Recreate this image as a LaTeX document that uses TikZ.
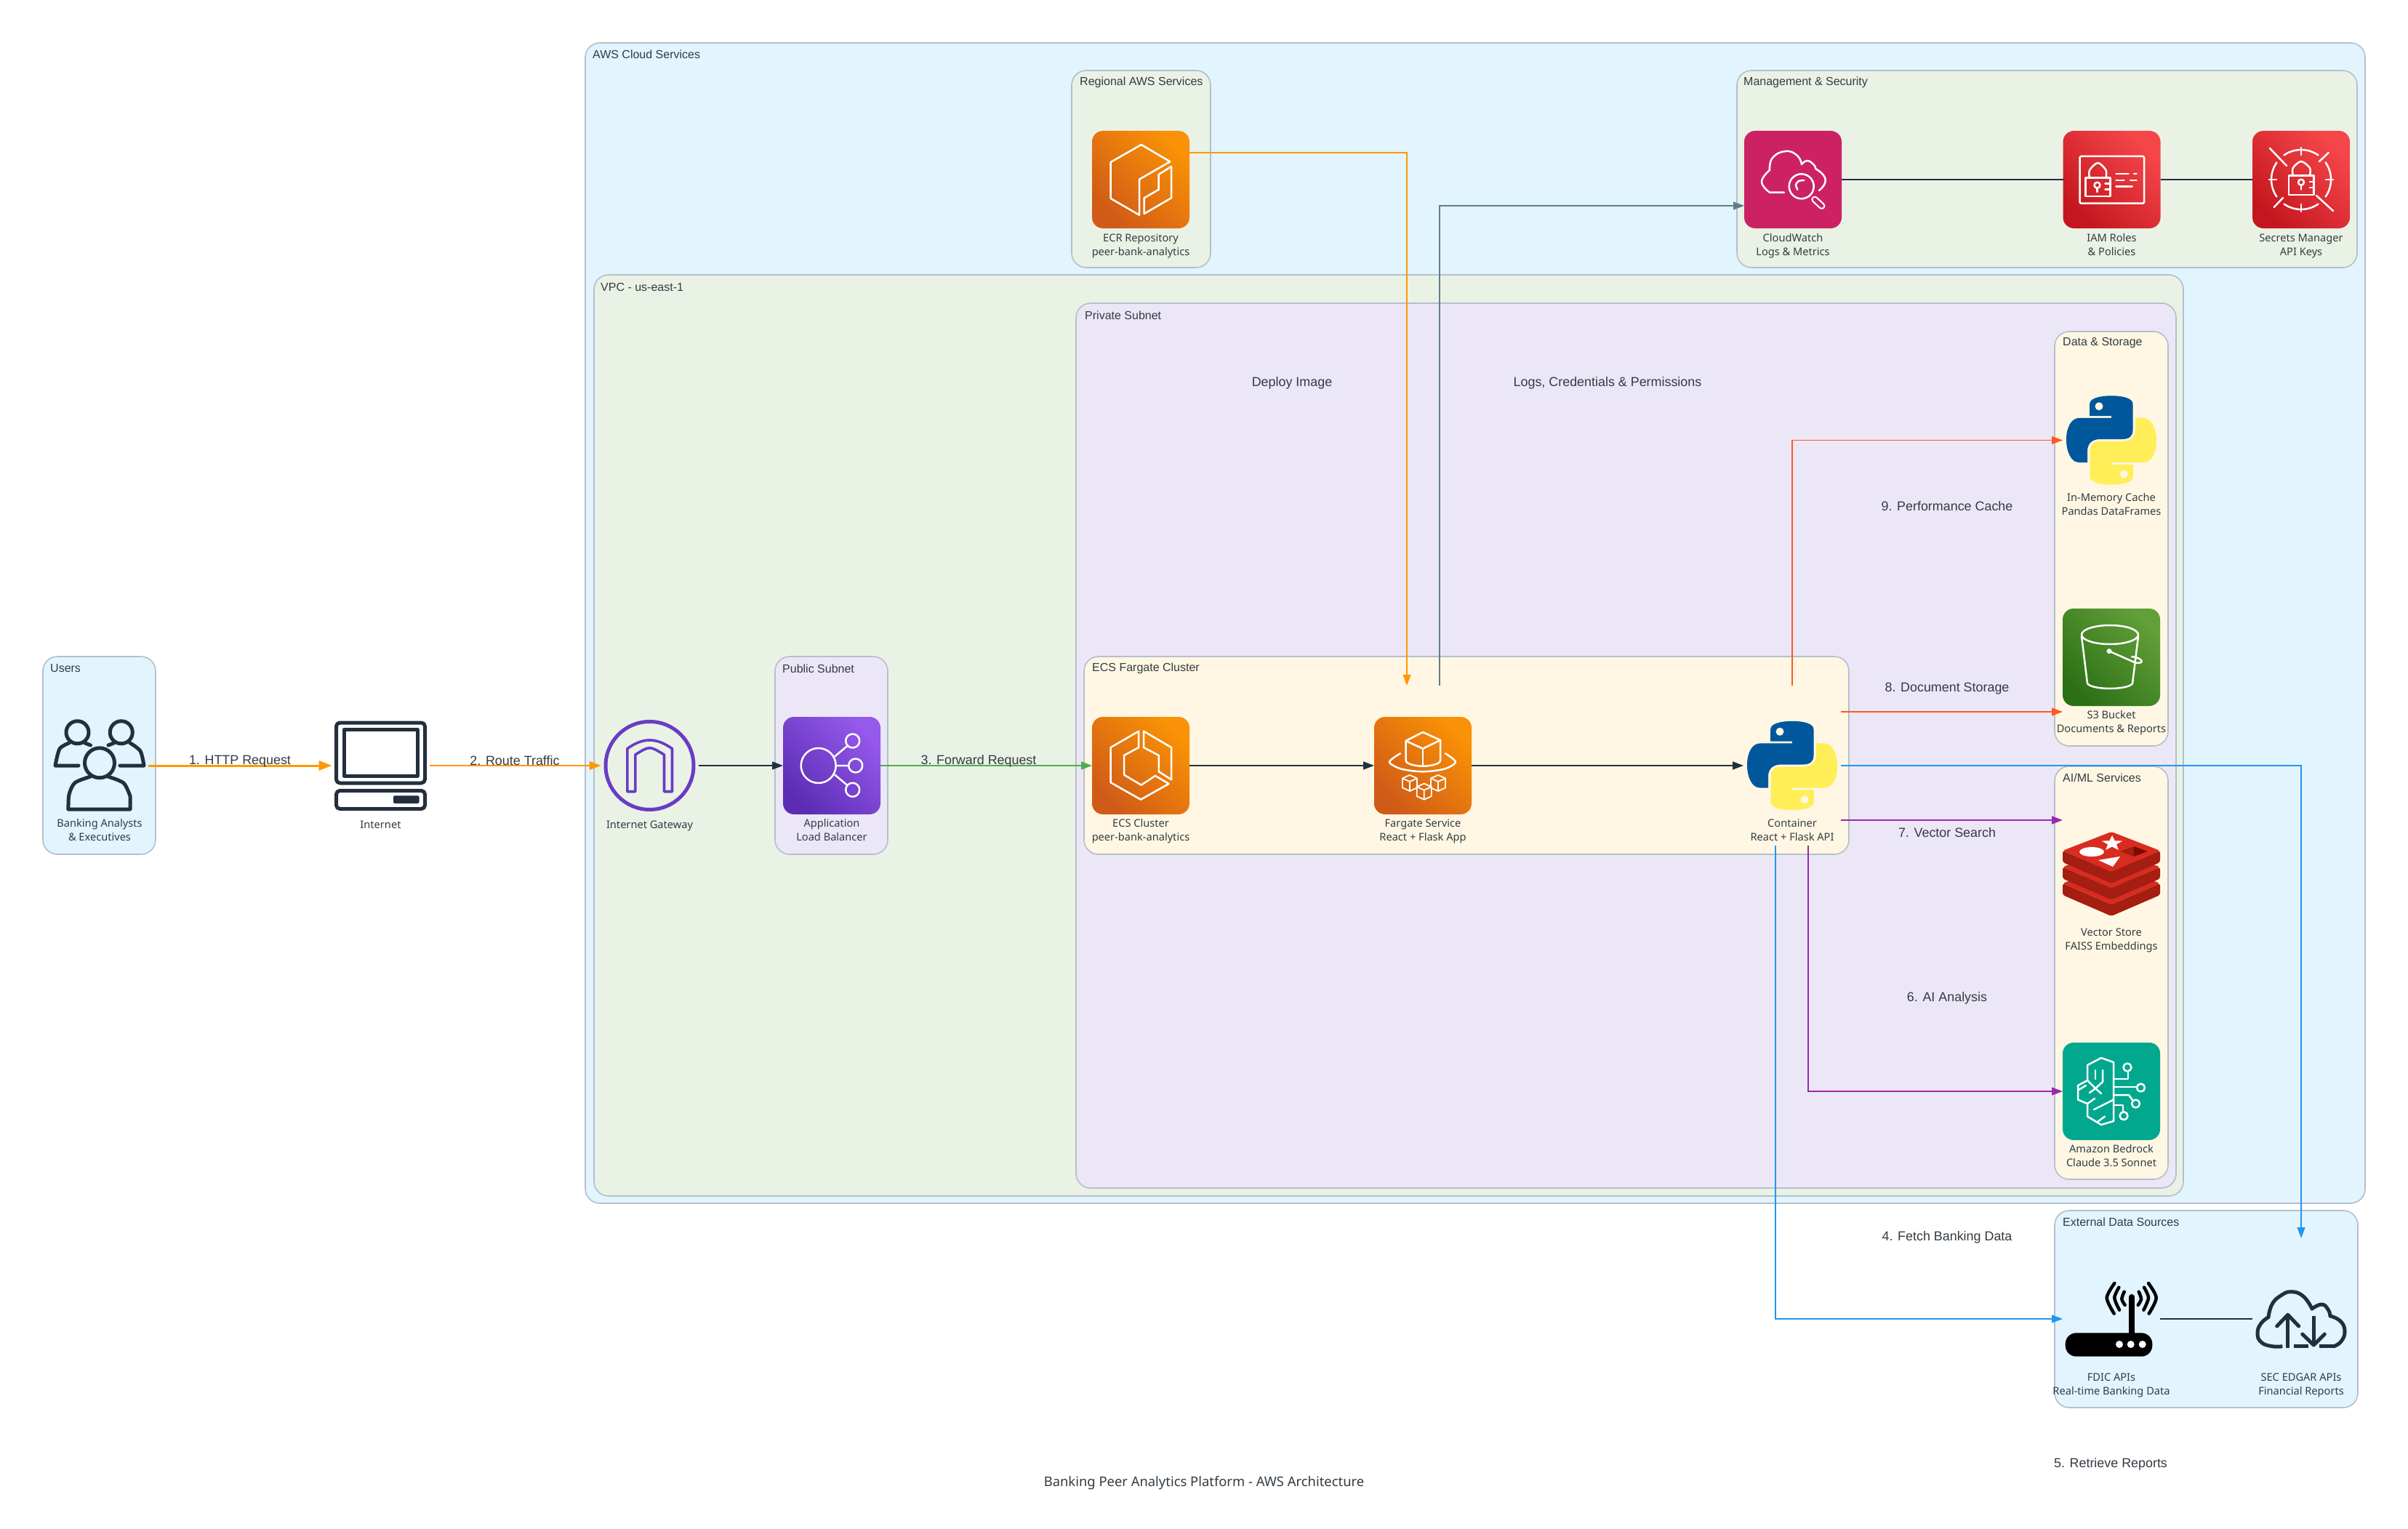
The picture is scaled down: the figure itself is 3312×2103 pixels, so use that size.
\documentclass[tikz,border=0pt]{standalone}
\usepackage{fontspec}
\setmainfont{Noto Sans}
\newfontfamily\arialf{Liberation Sans}
\usetikzlibrary{arrows.meta}
\definecolor{fillBlue}{HTML}{E2F4FD}
\definecolor{fillGreen}{HTML}{EAF2E6}
\definecolor{fillPurple}{HTML}{ECE7F6}
\definecolor{fillCream}{HTML}{FFF7E3}
\definecolor{grpBorder}{HTML}{B4BFCB}
\definecolor{awsDark}{HTML}{232F3E}
\definecolor{txtDark}{HTML}{333B42}
\definecolor{cOrange}{HTML}{FF9800}
\definecolor{cGreen}{HTML}{4CAF50}
\definecolor{cDeep}{HTML}{FF5722}
\definecolor{cPurple}{HTML}{9C27B0}
\definecolor{cBlue}{HTML}{2196F3}
\definecolor{cSlate}{HTML}{607D8B}
\definecolor{igwPurple}{HTML}{693CC5}
\definecolor{cwPink}{HTML}{CC2264}
\definecolor{bedTeal}{HTML}{01A88D}
\definecolor{redisTop}{HTML}{D82C20}
\definecolor{redisSide}{HTML}{A41E11}
\definecolor{redisDeep}{HTML}{7A0C00}
\definecolor{pyBlue}{HTML}{01579B}
\definecolor{pyYellow}{HTML}{FFEE58}
\definecolor{orangeHi}{HTML}{F99206}
\definecolor{orangeLo}{HTML}{D05A17}
\definecolor{redHi}{HTML}{F5474A}
\definecolor{redLo}{HTML}{C5161F}
\definecolor{purpleHi}{HTML}{9559EC}
\definecolor{purpleLo}{HTML}{5C2DB4}
\definecolor{greenHi}{HTML}{619F38}
\definecolor{greenLo}{HTML}{2C7016}
\tikzset{
  grp/.style={rectangle,rounded corners=20pt,draw=grpBorder,line width=1.6pt,anchor=north west,inner sep=0pt,outer sep=0pt},
  grpTitle/.style={anchor=west,inner sep=0pt,yshift=-1.5pt,font=\arialf\fontsize{16}{19}\selectfont,text=txtDark},
  edgeLbl/.style={inner sep=0pt,font=\arialf\fontsize{17.9}{21}\selectfont,text=txtDark},
  svcLbl/.style={inner sep=0pt,align=center,font=\fontsize{14.6}{19}\selectfont,text=txtDark,
    execute at begin node={\rule{0pt}{14pt}},execute at end node={\rule[-4pt]{0pt}{4pt}}},
  frameBox/.style={rectangle,minimum size=134pt,inner sep=0pt,outer sep=0pt},
  tile/.style={frameBox,rounded corners=15pt},
  tOrange/.style={tile,top color=orangeHi,bottom color=orangeLo,shading angle=-45},
  tRed/.style={tile,top color=redHi,bottom color=redLo,shading angle=-45},
  tPurple/.style={tile,top color=purpleHi,bottom color=purpleLo,shading angle=-45},
  tGreen/.style={tile,top color=greenHi,bottom color=greenLo,shading angle=-45},
  gl/.style={draw=white,line width=2.5pt,line cap=round,line join=round},
  dk/.style={draw=awsDark,line width=5pt,line cap=round,line join=round},
  link/.style={line width=1.5pt},
  thinlink/.style={line width=1.1pt},
  tip/.style={-{Triangle[length=15pt,width=11pt]}},
}
\newcommand{\pyglyph}[1]{%
  \fill[pyBlue] (-29.8,-33.3) -- (-29.8,-50) .. controls (-29.8,-58) and (-15,-61.2) .. (0,-61.2) .. controls (15,-61.2) and (29.5,-58) .. (29.5,-50) -- (29.5,-14) .. controls (29.5,-6) and (25,-1.5) .. (15,-1.5) -- (-15,-1.5) .. controls (-28,-1.5) and (-33,6) .. (-33,15) -- (-33,30.6) -- (-44,30.6) .. controls (-56,30.6) and (-62,15) .. (-62,-1) .. controls (-62,-18) and (-55,-30.6) .. (-44,-30.6) -- (0,-30.6) -- (0,-33.3) -- cycle;
  \fill[#1] (-17,-46.7) circle[radius=5.5];
  \begin{scope}[rotate=180]
  \fill[pyYellow] (-29.8,-33.3) -- (-29.8,-50) .. controls (-29.8,-58) and (-15,-61.2) .. (0,-61.2) .. controls (15,-61.2) and (29.5,-58) .. (29.5,-50) -- (29.5,-14) .. controls (29.5,-6) and (25,-1.5) .. (15,-1.5) -- (-15,-1.5) .. controls (-28,-1.5) and (-33,6) .. (-33,15) -- (-33,30.6) -- (-44,30.6) .. controls (-56,30.6) and (-62,15) .. (-62,-1) .. controls (-62,-18) and (-55,-30.6) .. (-44,-30.6) -- (0,-30.6) -- (0,-33.3) -- cycle;
  \fill[#1] (-17,-46.7) circle[radius=5.5];
  \end{scope}
}
\newcommand{\smcube}[2]{%
  \begin{scope}[shift={(#1,#2)}]
  \draw[gl,line width=1.8pt] (0,-11) -- (10,-6.5) -- (10,6.5) -- (0,11) -- (-10,6.5) -- (-10,-6.5) -- cycle;
  \draw[gl,line width=1.8pt] (-10,-6.5) -- (0,-2) -- (10,-6.5) (0,-2) -- (0,11);
  \end{scope}
}
\newcommand{\redislayer}[1]{%
  \fill[redisSide,rounded corners=3pt] (-67,{-32+#1}) -- (-67,{-16+#1}) -- (0,{13+#1}) -- (67,{-16+#1}) -- (67,{-32+#1}) -- (0,{-3+#1}) -- cycle;
  \fill[redisTop,rounded corners=3pt] (0,{-58+#1}) -- (67,{-32+#1}) -- (0,{-3+#1}) -- (-67,{-32+#1}) -- cycle;
}
\begin{document}
\begin{tikzpicture}[x=1pt,y=-1pt]
\useasboundingbox (0,0) rectangle (3312,2103);
\fill[white] (0,0) rectangle (3312,2103);
% groups
\node[grp,fill=fillBlue,minimum width=2448pt,minimum height=1596pt] (gAws) at (805,59) {};
\node[grp,fill=fillGreen,minimum width=191pt,minimum height=271pt] (gReg) at (1474,97) {};
\node[grp,fill=fillGreen,minimum width=853pt,minimum height=271pt] (gMgmt) at (2389,97) {};
\node[grp,fill=fillGreen,minimum width=2186pt,minimum height=1267pt] (gVpc) at (817,378) {};
\node[grp,fill=fillPurple,minimum width=155pt,minimum height=272pt] (gPub) at (1066,903) {};
\node[grp,fill=fillPurple,minimum width=1513pt,minimum height=1217pt] (gPriv) at (1480,417) {};
\node[grp,fill=fillCream,minimum width=1052pt,minimum height=272pt] (gEcs) at (1491,903) {};
\node[grp,fill=fillCream,minimum width=156pt,minimum height=570pt] (gData) at (2826,456) {};
\node[grp,fill=fillCream,minimum width=156pt,minimum height=568pt] (gAi) at (2826,1054) {};
\node[grp,fill=fillBlue,minimum width=155pt,minimum height=272pt] (gUsers) at (59,903) {};
\node[grp,fill=fillBlue,minimum width=417pt,minimum height=271pt] (gExt) at (2826,1665) {};
\node[grpTitle] (tAws) at (815,73) {AWS Cloud Services};
\node[grpTitle] (tReg) at (1485,112) {Regional AWS Services};
\node[grpTitle] (tMgmt) at (2398,112) {Management \& Security};
\node[grpTitle] (tVpc) at (826,393) {VPC - us-east-1};
\node[grpTitle] (tPriv) at (1492,432) {Private Subnet};
\node[grpTitle] (tPub) at (1076,918) {Public Subnet};
\node[grpTitle] (tEcs) at (1502,918) {ECS Fargate Cluster};
\node[grpTitle] (tData) at (2837,470) {Data \& Storage};
\node[grpTitle] (tAi) at (2837,1068) {AI/ML Services};
\node[grpTitle] (tUsers) at (69,918) {Users};
\node[grpTitle] (tExt) at (2837,1679) {External Data Sources};
% service frames and tiles
\node[frameBox] (users) at (137,1053) {};
\node[frameBox] (internet) at (523.5,1053) {};
\node[frameBox] (igw) at (893.5,1053) {};
\node[tPurple] (alb) at (1144,1053) {};
\node[tOrange] (ecs) at (1569,1053) {};
\node[tOrange] (fargate) at (1957,1053) {};
\node[frameBox] (cont) at (2465,1053) {};
\node[tOrange] (ecr) at (1569,247) {};
\node[tile,fill=cwPink] (cw) at (2466,247) {};
\node[tRed] (iam) at (2904.5,247) {};
\node[tRed] (secrets) at (3165,247) {};
\node[frameBox] (cache) at (2904,605.5) {};
\node[tGreen] (s3) at (2904,904) {};
\node[frameBox] (redis) at (2904,1202) {};
\node[tile,fill=bedTeal] (bedrock) at (2904,1501) {};
\node[frameBox] (fdic) at (2904,1814) {};
\node[frameBox] (sec) at (3165,1814) {};
% ports
\coordinate (fgIn) at ([xshift=-22pt,yshift=43pt]fargate.north);
\coordinate (fgOut) at ([xshift=23pt,yshift=43pt]fargate.north);
\coordinate (ecrOut) at ([yshift=37pt]ecr.east);
\coordinate (cwIn) at ([yshift=-36pt]cw.west);
\coordinate (contTop) at ([yshift=43pt]cont.north);
\coordinate (contDoc) at ([yshift=74pt]cont.east);
\coordinate (contVec) at ([yshift=-75pt]cont.east);
\coordinate (contAi) at ([xshift=22pt,yshift=-43pt]cont.south);
\coordinate (contFdic) at ([xshift=-23pt,yshift=-43pt]cont.south);
\coordinate (s3In) at ([yshift=-8pt]s3.south west);
\coordinate (redisIn) at ([yshift=74pt]redis.west);
\coordinate (secIn) at ([yshift=44pt]sec.north);
% connectors
\draw[-{Triangle[length=18pt,width=13pt]},cOrange,line width=3pt] (users) -- (internet);
\draw[-{Triangle[length=16pt,width=12pt]},cOrange,line width=2pt] (internet) -- (igw);
\draw[tip,awsDark,link] (igw) -- (alb);
\draw[tip,cGreen,line width=1.8pt] (alb) -- (ecs);
\draw[tip,awsDark,link] (ecs) -- (fargate);
\draw[tip,awsDark,link] (fargate) -- (cont);
\draw[tip,cOrange,thinlink] (ecrOut) -| (fgIn);
\draw[tip,cSlate,thinlink] (fgOut) |- (cwIn);
\draw[awsDark,link] (cw) -- (iam);
\draw[awsDark,link] (iam) -- (secrets);
\draw[tip,cDeep,thinlink] (contTop) |- (cache);
\draw[tip,cDeep,line width=1.3pt] (contDoc) -- (s3In);
\draw[tip,cPurple,line width=2pt] (contVec) -- (redisIn);
\draw[tip,cPurple,thinlink] (contAi) |- (bedrock);
\draw[tip,cBlue,thinlink] (contFdic) |- (fdic);
\draw[tip,cBlue,line width=1.2pt] (cont.east) -| (secIn);
\draw[awsDark,link] (fdic) -- (sec);
% glyphs
\begin{scope}[shift={(users.center)}]
  \draw[dk] (0,-3.7) circle[radius=20.5];
  \draw[dk] (-30.5,-45.7) circle[radius=15.5];
  \draw[dk] (29.8,-45.7) circle[radius=15.5];
  \draw[dk] (-43,60) -- (42,60) -- (42,42) plot[smooth] coordinates {(42,42) (33,24) (12,15.3)};
  \draw[dk] plot[smooth] coordinates {(-43,60) (-42,40) (-34,23.7) (-13,15.3)};
  \draw[dk] plot[smooth] coordinates {(-42,-31) (-55,-23) (-61,0)} -- (-29,0);
  \draw[dk] (-20,-31) -- (-12.5,-28);
  \draw[dk] plot[smooth] coordinates {(42,-31) (56,-20) (61,0)} -- (28,0);
  \draw[dk] (19.5,-31) -- (12,-28);
\end{scope}
\begin{scope}[shift={(internet.center)}]
  \draw[dk,rounded corners=5pt] (-61,-59) rectangle (61,24);
  \draw[dk] (-50.5,-49.5) rectangle (50.5,14);
  \draw[dk,rounded corners=5pt] (-61,34.5) rectangle (61,59.5);
  \fill[awsDark,rounded corners=2pt] (17.6,41.3) rectangle (53,52);
\end{scope}
\begin{scope}[shift={(igw.center)}]
  \draw[igwPurple,line width=5pt] (0,0) circle[radius=60.5];
  \draw[igwPurple,line width=3.6pt,line join=round] (-30.7,35.7) -- (-30.7,-23.3) .. controls (-20,-31) and (-10,-35) .. (0,-35) .. controls (10,-35) and (20,-31) .. (31,-23.3) -- (31,35.7) -- (20,35.7) -- (20,-15) .. controls (10,-21) and (5,-24.3) .. (0,-24.3) .. controls (-5,-24.3) and (-10,-21) .. (-19.7,-15) -- (-19.7,35.7) -- cycle;
\end{scope}
\begin{scope}[shift={(alb.center)}]
  \draw[gl] (-18.3,0) circle[radius=24];
  \draw[gl] (28.7,-34) circle[radius=9.5];
  \draw[gl] (32.7,0) circle[radius=9.5];
  \draw[gl] (28.7,33.3) circle[radius=9.5];
  \draw[gl] (4.3,-12.7) -- (21,-26.7) (6.7,0) -- (22.7,0) (4.3,12.7) -- (21,26.7);
\end{scope}
\begin{scope}[shift={(ecs.center)}]
  \draw[gl] (-2.8,-47.3) -- (-41.3,-25) -- (-41.3,23.3) -- (0,46.7) -- (38.6,25) -- (20,14) -- (0.7,26.7) -- (-23,12.7) -- (-23,-14) -- (-2.8,-25) -- cycle;
  \draw[gl] (4,-47.3) -- (42,-25) -- (42,19.3) -- (24.8,8.3) -- (24.8,-14) -- (4,-25) -- cycle;
\end{scope}
\begin{scope}[shift={(fargate.center)}]
  \draw[gl] (0,-46) -- (24,-35) -- (0,-23.3) -- (-23.4,-34) -- cycle;
  \draw[gl] (-23.4,-34) -- (-23.4,-7) .. controls (-23,-2) and (-10,0.7) .. (0,0.7) .. controls (10,0.7) and (24,-2) .. (24,-7) -- (24,-35);
  \draw[gl] (0,-23.3) -- (0,0.7);
  \draw[gl] plot[smooth] coordinates {(-31,-16.7) (-46,-5) (-30,4.5) (0,8.3) (30,4.5) (45,-5) (31,-16.7)};
  \smcube{-18}{24}\smcube{1.7}{35.7}\smcube{21}{24}
\end{scope}
\begin{scope}[shift={(cont.center)}]\pyglyph{fillCream}\end{scope}
\begin{scope}[shift={(ecr.center)}]
  \draw[gl] (0.7,-48) -- (40.3,-24.7) -- (-2,-0.3) -- (-2,48.7) -- (-41.3,26) -- (-41.3,-24) -- cycle;
  \draw[gl] (42,-18) -- (42,25.3) -- (4.7,47) -- (4.7,25.3) -- (24.7,13.7) -- (24.7,-7) -- cycle;
\end{scope}
\begin{scope}[shift={(cw.center)}]
  \draw[gl] (-12,17.7) -- (-32,17.7) plot[smooth,tension=.8] coordinates {(-32,17.7) (-43,3) (-32,-13)};
  \draw[gl] plot[smooth,tension=.8] coordinates {(-32,-13) (-28,-30) (-10,-39) (6,-33) (12,-21)};
  \draw[gl] plot[smooth,tension=.8] coordinates {(12,-21) (20,-26) (29,-20) (31,-15)};
  \draw[gl] plot[smooth,tension=.8] coordinates {(31,-15) (42,-6) (44,5) (36,15)};
  \draw[gl] (11.7,9.3) circle[radius=17];
  \draw[gl] plot[smooth] coordinates {(6.3,13.7) (4,7) (8,2) (15.3,1)};
  \draw[white,line width=9.5pt,line cap=round] (30,27.3) -- (39.7,36.3);
  \draw[cwPink,line width=5pt,line cap=round] (30,27.3) -- (39.7,36.3);
\end{scope}
\begin{scope}[shift={(iam.center)}]
  \draw[gl,rounded corners=1.5pt] (-44,-32) rectangle (44.5,32.7);
  \draw[gl] (-36,-2.3) rectangle (-2.2,23);
  \draw[gl] plot[smooth] coordinates {(-30.5,-2.3) (-30.5,-13) (-19,-23) (-8,-13) (-8,-2.3)};
  \draw[gl] (-20,7.7) circle[radius=4];
  \draw[gl] (-20,11.7) -- (-20,17);
  \draw[gl] (-9,5.3) -- (-3,5.3) (-9,13.7) -- (-3,13.7);
  \draw[gl] (6,-8) -- (23,-8) (30.5,-8) -- (34,-8) (6,1) -- (17,1) (25.5,1) -- (34,1) (6,9.7) -- (28,9.7);
\end{scope}
\begin{scope}[shift={(secrets.center)}]
  \draw[gl] (-17,-5.7) rectangle (17.3,21);
  \draw[gl] plot[smooth] coordinates {(-11.3,-5.7) (-11.3,-16) (0,-25) (12,-16) (12,-5.7)};
  \draw[gl] (0,3.7) circle[radius=4];
  \draw[gl] (0,7.7) -- (0,13.7);
  \draw[gl] (12,3) -- (17,3) (12,11) -- (17,11);
  \draw[gl] plot[domain=55:125,samples=20] ({41*cos(\x)},{-41*sin(\x)});
  \draw[gl] plot[domain=145:215,samples=20] ({41*cos(\x)},{-41*sin(\x)});
  \draw[gl] plot[domain=235:305,samples=20] ({41*cos(\x)},{-41*sin(\x)});
  \draw[gl] plot[domain=-35:35,samples=20] ({41*cos(\x)},{-41*sin(\x)});
  \draw[gl] (0,-44) -- (0,-34) (0,34) -- (0,44) (-44,0) -- (-34,0) (34,0) -- (44,0);
  \draw[gl] (-43,-43) -- (-20,-19) (44,43) -- (21,22) (37.7,-37) -- (25,-25) (-25,25) -- (-37.3,38);
\end{scope}
\begin{scope}[shift={(cache.center)}]\pyglyph{fillCream}\end{scope}
\begin{scope}[shift={(s3.center)}]
  \draw[gl] (-2,-31) ellipse[x radius=39,y radius=13];
  \draw[gl] (-41,-29) -- (-33,36) .. controls (-30,41) and (-14,43) .. (-2,43) .. controls (10,43) and (26,41) .. (29,36) -- (37,-29);
  \fill[white] (-3,-8.4) circle[radius=3.5];
  \draw[gl] (-3,-8.4) -- (33,7.5) .. controls (41,9) and (44,6) .. (40,3) .. controls (37,1) and (33,0) .. (28,-1);
\end{scope}
\begin{scope}[shift={(redis.center)}]
  \redislayer{45}\redislayer{22.5}\redislayer{0}
  \fill[white] (1,-53) -- (-2.7,-45.7) -- (-13.3,-45.4) -- (-5,-40.6) -- (-7.8,-33.1) -- (1,-37.4) -- (9.8,-33.1) -- (7,-40.6) -- (15.3,-45.4) -- (4.7,-45.7) -- cycle;
  \fill[white] (-27,-30.4) ellipse[x radius=17,y radius=6.5];
  \fill[white] (-18,-19) -- (12,-24) -- (2,-10) -- cycle;
  \fill[redisSide] (12,-31) -- (31,-38) -- (31,-24) -- cycle;
  \fill[redisDeep] (31,-38) -- (49.5,-31) -- (31,-24) -- cycle;
\end{scope}
\begin{scope}[shift={(bedrock.center)}]
  \draw[gl] (3,-40) -- (-14,-46) -- (-33,-36) -- (-33,-15) -- (-46,-8) -- (-46,11.5) -- (-33,17) -- (-33,34.5) -- (-14,46) -- (3,41) -- cycle;
  \draw[gl] (-12,-29) -- (-12,-13) -- (-22,-4);
  \draw[gl] (-22,-29) -- (-22,-17);
  \draw[gl] (-30,2) -- (-22,-4) -- (-14,3);
  \draw[gl] (-33,-15) -- (-22,-4);
  \draw[gl] (-45,-2) -- (-35,-8);
  \draw[gl] (-33,17) -- (-23,10);
  \draw[gl] (-24,25) -- (3,11.5);
  \draw[gl] (-19,42) -- (-9,34.5);
  \draw[gl] (3,-17) -- (23,-17) -- (23,-28);
  \draw[gl] (22,-33) circle[radius=5.5];
  \draw[gl] (3,-6) -- (35,-6);
  \draw[gl] (40.5,-5) circle[radius=5.5];
  \draw[gl] (3,5) -- (24,5) -- (29,12);
  \draw[gl] (33.5,17) circle[radius=5.5];
  \draw[gl] (3,19) -- (16,19) -- (16,28);
  \draw[gl] (17,33.7) circle[radius=5.5];
\end{scope}
\begin{scope}[shift={(fdic.center)}]
  \fill[black,rounded corners=15pt] (-63.3,19.3) rectangle (56.3,51.7);
  \fill[white] (11,35) circle[radius=5] (26.7,35) circle[radius=5] (42.7,35) circle[radius=5];
  \draw[black,line width=8pt,line cap=round] (27.7,-30) -- (27.7,20);
  \draw[black,line width=4.5pt,line cap=round] plot[smooth] coordinates {(17.7,-37.3) (14.3,-27.3) (18.7,-19)};
  \draw[black,line width=4.5pt,line cap=round] plot[smooth] coordinates {(10.3,-43.3) (4.3,-29) (11,-12.3)};
  \draw[black,line width=4.5pt,line cap=round] plot[smooth] coordinates {(4.3,-49) (-6.3,-29) (3.7,-7.3)};
  \draw[black,line width=4.5pt,line cap=round] plot[smooth] coordinates {(37.7,-37.3) (41,-27.3) (36.7,-19)};
  \draw[black,line width=4.5pt,line cap=round] plot[smooth] coordinates {(45,-43.3) (51,-29) (44.4,-12.3)};
  \draw[black,line width=4.5pt,line cap=round] plot[smooth] coordinates {(51,-49) (61.7,-29) (51.7,-7.3)};
\end{scope}
\begin{scope}[shift={(sec.center)}]
  \draw[dk,line cap=butt] plot[smooth,tension=.8] coordinates {(-25.7,37.7) (-40,37.7) (-55,32) (-60,19.3) (-55,6) (-45,-2.3)};
  \draw[dk] plot[smooth,tension=.8] coordinates {(-45,-2.3) (-40,-20) (-28,-32) (-13.3,-37.3) (3,-31) (15,-14)};
  \draw[dk] plot[smooth,tension=.8] coordinates {(15,-14) (28.3,-20) (37,-13) (40,-4)};
  \draw[dk] plot[smooth,tension=.8] coordinates {(40,-4) (54,3) (60,17) (55,31) (45,37.7)};
  \draw[dk,line cap=butt] (45,37.7) -- (25,37.7);
  \draw[dk,line cap=butt] (-10,37.7) -- (10,37.7);
  \draw[dk,line cap=butt] (-18.3,39.7) -- (-18.3,-4);
  \draw[dk] (-33.3,10) -- (-18.3,-5.7) -- (-3.3,10);
  \draw[dk,line cap=butt] (17.3,-4) -- (17.3,36);
  \draw[dk] (1.7,21) -- (17.3,36) -- (32.3,21);
\end{scope}
% service labels
\node[svcLbl] (lUsers) at (137,1143.5) {Banking Analysts\\\& Executives};
\node[svcLbl] (lInternet) at (523.5,1134) {Internet};
\node[svcLbl] (lIgw) at (893.5,1134) {Internet Gateway};
\node[svcLbl] (lAlb) at (1144,1143.5) {Application\\Load Balancer};
\node[svcLbl] (lEcs) at (1569,1143.5) {ECS Cluster\\peer-bank-analytics};
\node[svcLbl] (lFargate) at (1957,1143.5) {Fargate Service\\React + Flask App};
\node[svcLbl] (lCont) at (2465,1143.5) {Container\\React + Flask API};
\node[svcLbl] (lEcr) at (1569,338.5) {ECR Repository\\peer-bank-analytics};
\node[svcLbl] (lCw) at (2466,338.5) {CloudWatch\\Logs \& Metrics};
\node[svcLbl] (lIam) at (2904.5,338.5) {IAM Roles\\\& Policies};
\node[svcLbl] (lSecrets) at (3165,338.5) {Secrets Manager\\API Keys};
\node[svcLbl] (lCache) at (2904,695.5) {In-Memory Cache\\Pandas DataFrames};
\node[svcLbl] (lS3) at (2904,994.5) {S3 Bucket\\Documents \& Reports};
\node[svcLbl] (lRedis) at (2904,1293.5) {Vector Store\\FAISS Embeddings};
\node[svcLbl] (lBedrock) at (2904,1591.5) {Amazon Bedrock\\Claude 3.5 Sonnet};
\node[svcLbl] (lFdic) at (2904,1905.5) {FDIC APIs\\Real-time Banking Data};
\node[svcLbl] (lSec) at (3165,1905.5) {SEC EDGAR APIs\\Financial Reports};
% edge labels
\node[edgeLbl] (e1) at (330,1047) {1. HTTP Request};
\node[edgeLbl] (e2) at (708,1046) {2. Route Traffic};
\node[edgeLbl] (e3) at (1346,1047) {3. Forward Request};
\node[edgeLbl] (e4) at (2678,1702) {4. Fetch Banking Data};
\node[edgeLbl] (e5) at (2903,2014) {5. Retrieve Reports};
\node[edgeLbl] (e6) at (2678,1373) {6. AI Analysis};
\node[edgeLbl] (e7) at (2678,1145) {7. Vector Search};
\node[edgeLbl] (e8) at (2678,947) {8. Document Storage};
\node[edgeLbl] (e9) at (2678,696) {9. Performance Cache};
\node[edgeLbl] (eDeploy) at (1777,527) {Deploy Image};
\node[edgeLbl] (eLogs) at (2211,527) {Logs, Credentials \& Permissions};
\node[inner sep=0pt,font=\fontsize{18.4}{22}\selectfont,text=txtDark] (title) at (1656,2040) {Banking Peer Analytics Platform - AWS Architecture};
\end{tikzpicture}
\end{document}
